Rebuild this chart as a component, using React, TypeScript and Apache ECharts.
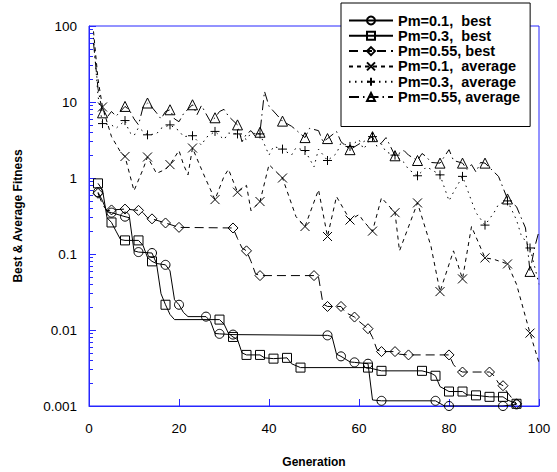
import React, { useEffect, useRef } from "react";
import * as echarts from "echarts";

// ---- axis values ----
const xTickValues = [0, 20, 40, 60, 80, 100];
const yTickLabels = ["0.001", "0.01", "0.1", "1", "10", "100"];
const yMajorValues = [0.001, 0.01, 0.1, 1, 10, 100];
const yMinorValues = [
  0.002, 0.003, 0.004, 0.005, 0.006, 0.007, 0.008, 0.009,
  0.02, 0.03, 0.04, 0.05, 0.06, 0.07, 0.08, 0.09,
  0.2, 0.3, 0.4, 0.5, 0.6, 0.7, 0.8, 0.9,
  2, 3, 4, 5, 6, 7, 8, 9,
  20, 30, 40, 50, 60, 70, 80, 90,
];

// ---- series names ----
const seriesNames = [
  "Pm=0.1,  best",
  "Pm=0.3,  best",
  "Pm=0.55, best",
  "Pm=0.1,  average",
  "Pm=0.3,  average",
  "Pm=0.55, average",
];

// ---- data: [generation, fitness] ----
const best01: [number, number][] = [
  [2, 0.65], [3, 0.5], [4, 0.36], [5, 0.35], [8, 0.31], [9, 0.3], [10, 0.11], [11, 0.106],
  [14, 0.103], [15, 0.075], [17, 0.072], [18, 0.06], [19, 0.025], [20, 0.0215], [21, 0.017],
  [22, 0.015], [26, 0.015], [27, 0.013], [28, 0.009], [29, 0.0089], [32, 0.0087], [53, 0.0085],
  [54, 0.0082], [55, 0.0048], [56, 0.0045], [58, 0.0038], [59, 0.00375], [62, 0.0036],
  [63, 0.0012], [65, 0.00117], [77, 0.00117], [79, 0.001], [80, 0.001], [92, 0.001], [95, 0.00105],
];
const best03: [number, number][] = [
  [2, 0.85], [3, 0.7], [4, 0.3], [5, 0.26], [6, 0.2], [7, 0.155], [8, 0.151], [11, 0.151],
  [12, 0.13], [13, 0.09], [14, 0.08], [15, 0.075], [16, 0.03], [17, 0.0215], [18, 0.016],
  [19, 0.0137], [29, 0.0137], [30, 0.012], [31, 0.009], [32, 0.0081], [33, 0.0075], [34, 0.005],
  [35, 0.0047], [38, 0.0047], [39, 0.0043], [41, 0.0042], [44, 0.0043], [45, 0.0036],
  [47, 0.0032], [62, 0.0032], [65, 0.0029], [74, 0.0029], [76, 0.0027], [77, 0.0025],
  [78, 0.0018], [80, 0.00155], [83, 0.00155], [84, 0.0014], [86, 0.00138], [89, 0.00132],
  [92, 0.00132], [93, 0.0012], [95, 0.00107],
];
const best055: [number, number][] = [
  [2, 0.63], [3, 0.45], [4, 0.37], [5, 0.38], [8, 0.39], [11, 0.375], [12, 0.35], [13, 0.3],
  [14, 0.29], [17, 0.256], [20, 0.224], [32, 0.22], [33, 0.16], [34, 0.12], [35, 0.11],
  [36, 0.08], [37, 0.055], [38, 0.052], [50, 0.052], [51, 0.05], [52, 0.022], [53, 0.0204],
  [56, 0.0204], [57, 0.017], [59, 0.0148], [60, 0.013], [62, 0.0104], [63, 0.008], [64, 0.0055],
  [65, 0.0052], [68, 0.0052], [69, 0.0048], [71, 0.0047], [80, 0.0047], [81, 0.0035],
  [82, 0.003], [83, 0.0028], [89, 0.0028], [90, 0.0025], [91, 0.002], [92, 0.00185],
  [93, 0.0015], [95, 0.00107],
];
const avg01: [number, number][] = [
  [1, 85], [2, 20], [3, 8.6], [5, 3.5], [7, 2.2], [8, 1.92], [10, 0.68], [12, 1.3], [13, 1.89],
  [15, 1.15], [17, 1.3], [18, 1.5], [20, 2.3], [21, 1.5], [22, 1.1], [23, 2.48], [25, 1.3],
  [26, 0.95], [28, 0.52], [30, 1.05], [31, 1.3], [33, 0.65], [35, 0.8], [36, 0.37], [38, 0.49],
  [40, 1.5], [43, 1.0], [46, 0.31], [48, 0.23], [51, 0.7], [53, 0.17], [55, 0.57], [58, 0.28],
  [60, 0.33], [61, 0.27], [63, 0.2], [65, 0.55], [68, 0.35], [69, 0.11], [73, 0.47],
  [76, 0.126], [78, 0.032], [81, 0.11], [83, 0.047], [85, 0.23], [88, 0.089], [90, 0.085],
  [93, 0.074], [95, 0.04], [98, 0.0091], [100, 0.0037],
];
const avg03: [number, number][] = [
  [1, 70], [2, 12], [3, 5.2], [5, 5.0], [6, 4.5], [8, 5.7], [9, 4.0], [10, 3.6], [11, 4.6],
  [13, 3.7], [15, 3.8], [16, 4.5], [18, 5.0], [20, 4.2], [21, 3.5], [23, 3.6], [25, 2.7],
  [26, 3.4], [28, 4.1], [30, 3.2], [31, 3.9], [33, 3.8], [35, 3.2], [36, 3.9], [38, 3.8],
  [40, 2.0], [41, 2.6], [43, 2.4], [45, 2.0], [46, 2.5], [48, 2.3], [50, 1.4], [51, 2.4],
  [53, 1.7], [55, 2.1], [56, 2.9], [58, 2.6], [60, 3.2], [61, 2.4], [63, 3.5], [65, 2.8],
  [66, 2.2], [68, 2.0], [70, 1.6], [71, 1.3], [73, 1.07], [75, 1.4], [76, 1.3], [78, 1.1],
  [80, 0.5], [81, 0.65], [83, 1.05], [85, 0.5], [86, 0.35], [88, 0.24], [90, 0.35],
  [91, 0.45], [93, 0.5], [95, 0.28], [96, 0.18], [98, 0.12], [100, 0.04],
];
const avg055: [number, number][] = [
  [1, 60], [2, 15], [3, 7.2], [4, 6.3], [5, 7.5], [6, 6.5], [8, 8.75], [9, 7.8], [10, 6.0],
  [11, 5.0], [12, 8.5], [13, 9.7], [14, 8.5], [15, 7.2], [16, 6.0], [17, 7.5], [18, 7.9],
  [19, 6.0], [20, 5.5], [21, 7.0], [23, 9.2], [24, 6.8], [25, 9.0], [26, 7.0], [27, 5.5],
  [28, 6.2], [29, 7.5], [30, 8.0], [31, 6.5], [33, 5.0], [34, 3.0], [35, 3.8], [36, 4.2],
  [37, 3.5], [38, 4.0], [39, 13.8], [40, 8.8], [43, 5.6], [45, 4.8], [46, 4.3], [47, 3.8],
  [48, 3.4], [49, 4.5], [51, 4.2], [52, 3.0], [53, 3.3], [55, 4.1], [56, 3.0], [58, 2.36],
  [60, 2.8], [61, 3.0], [63, 3.5], [64, 2.6], [65, 2.9], [66, 3.4], [67, 2.6], [68, 1.96],
  [70, 2.3], [71, 2.0], [73, 1.7], [74, 2.1], [75, 1.9], [76, 1.6], [78, 1.57], [80, 2.36],
  [81, 1.7], [83, 1.57], [84, 1.3], [85, 1.5], [86, 1.2], [87, 1.6], [88, 1.57], [91, 1.05],
  [93, 0.53], [95, 0.42], [97, 0.22], [98, 0.059], [99, 0.12], [100, 0.2],
];

const FONT = '"Liberation Sans", Arial, Helvetica, sans-serif';
const AXIS_BLUE = "#2626ff";

function withMarkers(pairs: [number, number][], every: number, first: number) {
  return pairs.map(([g, v]) =>
    g >= first && (g - first) % every === 0
      ? { value: [g, v] }
      : { value: [g, v], symbol: "none" }
  );
}

const crossPath = "path://M0,0L10,10M10,0L0,10";
const plusPath = "path://M5,0L5,10M0,5L10,5";

export default function App() {
  const ref = useRef<HTMLDivElement>(null);

  useEffect(() => {
    if (!ref.current) return;
    const chart = echarts.init(ref.current, null, { renderer: "svg" });

    const hollow = { color: "rgba(0,0,0,0)", borderColor: "#000", borderWidth: 1 };
    const mk = (
      name: string,
      data: any[],
      symbol: string,
      size: number | number[],
      type: any
    ) => ({
      name,
      type: "line",
      data,
      symbol,
      symbolSize: size,
      showSymbol: true,
      showAllSymbol: true,
      itemStyle: hollow,
      lineStyle: { color: "#000", width: 1, type },
      emphasis: { disabled: true },
      z: 3,
    });

    const gridLeft = 89;
    const gridRight = 18;
    const plotWidth = 557 - gridLeft - gridRight;

    chart.setOption({
      animation: false,
      backgroundColor: "#fff",
      grid: {
        left: gridLeft,
        right: gridRight,
        top: 26,
        bottom: 66,
        show: true,
        borderColor: AXIS_BLUE,
        borderWidth: 1,
        backgroundColor: "transparent",
        containLabel: false,
        outerBoundsMode: "none",
      },
      legend: {
        orient: "vertical",
        left: 341,
        top: 3,
        padding: [10, 10, 22, 7],
        itemWidth: 44,
        itemHeight: 10,
        itemGap: 0.3,
        backgroundColor: "#fff",
        borderColor: "#000",
        borderWidth: 1,
        borderRadius: 0,
        selectedMode: false,
        data: seriesNames,
        textStyle: {
          fontFamily: FONT,
          fontWeight: "bold",
          fontSize: 14.5,
          lineHeight: 15,
          color: "#000",
        },
        z: 10,
      },
      xAxis: {
        type: "value",
        min: 0,
        max: 100,
        interval: 20,
        axisLine: { show: true, lineStyle: { color: AXIS_BLUE, width: 1 } },
        axisTick: { show: true, inside: true, length: 7, lineStyle: { color: AXIS_BLUE } },
        axisLabel: {
          color: "#000",
          fontFamily: FONT,
          fontSize: 13.5,
          margin: 15,
          customValues: xTickValues,
        },
        splitLine: { show: false },
      },
      yAxis: [
        {
          type: "log",
          logBase: 10,
          min: 0.001,
          max: 100,
          position: "left",
          axisLine: { show: true, lineStyle: { color: AXIS_BLUE, width: 1 } },
          axisTick: {
            show: true,
            inside: true,
            length: 7,
            lineStyle: { color: AXIS_BLUE },
            customValues: yMajorValues,
          },
          axisLabel: {
            color: "#000",
            fontFamily: FONT,
            fontSize: 13.5,
            margin: 12,
            customValues: yMajorValues,
            formatter: (v: number) => {
              let best = 0;
              let bd = Infinity;
              yMajorValues.forEach((m, i) => {
                const d = Math.abs(Math.log10(m) - Math.log10(v));
                if (d < bd) {
                  bd = d;
                  best = i;
                }
              });
              return yTickLabels[best];
            },
          },
          splitLine: { show: false },
        },
        {
          type: "log",
          logBase: 10,
          min: 0.001,
          max: 100,
          position: "right",
          offset: -plotWidth,
          axisLine: { show: false },
          axisTick: {
            show: true,
            inside: false,
            length: 4,
            lineStyle: { color: AXIS_BLUE },
            customValues: yMinorValues,
          },
          axisLabel: { show: false },
          splitLine: { show: false },
        },
      ],
      series: [
        mk(seriesNames[0], withMarkers(best01, 3, 2), "circle", 9, "solid"),
        mk(seriesNames[1], withMarkers(best03, 3, 2), "rect", 9, "solid"),
        mk(seriesNames[2], withMarkers(best055, 3, 2), "diamond", [10, 10], [9, 5]),
        mk(seriesNames[3], withMarkers(avg01, 5, 3), crossPath, 9, [4, 4]),
        mk(seriesNames[4], withMarkers(avg03, 5, 3), plusPath, 9, [1.5, 4.5]),
        mk(seriesNames[5], withMarkers(avg055, 5, 3), "triangle", 10, [10, 4, 1.5, 4]),
      ],
      graphic: [
        {
          type: "text",
          x: 18,
          y: 216,
          rotation: Math.PI / 2,
          style: {
            text: "Best & Average Fitness",
            font: `bold 12px ${FONT}`,
            fill: "#000",
            align: "center",
            verticalAlign: "middle",
          },
        },
        {
          type: "text",
          x: 314,
          y: 462,
          style: {
            text: "Generation",
            font: `bold 12px ${FONT}`,
            fill: "#000",
            align: "center",
            verticalAlign: "middle",
          },
        },
      ],
    });

    return () => chart.dispose();
  }, []);

  return (
    <div
      ref={ref}
      style={{ position: "absolute", left: 0, top: 0, width: 557, height: 472 }}
    />
  );
}
